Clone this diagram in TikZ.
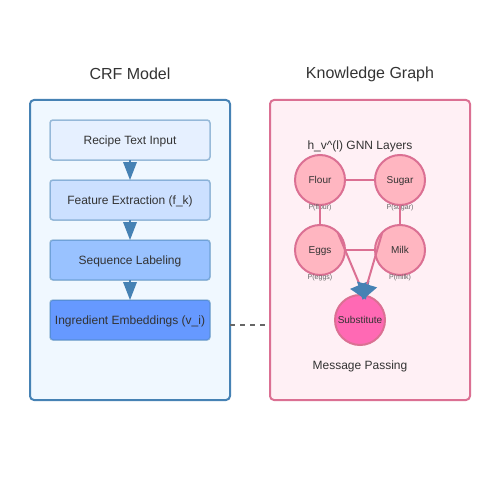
\documentclass[tikz,border=0pt]{standalone}
\usepackage{fontspec}
\setmainfont{Liberation Sans}
\usetikzlibrary{arrows.meta}
\usetikzlibrary{positioning}
\definecolor{crfline}{HTML}{4682B4}
\definecolor{crfbg}{HTML}{F0F8FF}
\definecolor{stepa}{HTML}{E6F0FF}
\definecolor{stepb}{HTML}{CCE0FF}
\definecolor{stepc}{HTML}{99C2FF}
\definecolor{stepd}{HTML}{6699FF}
\definecolor{kgline}{HTML}{DB7093}
\definecolor{kgbg}{HTML}{FFF0F5}
\definecolor{ingrfill}{HTML}{FFB6C1}
\definecolor{subfill}{HTML}{FF69B4}
\definecolor{txt}{HTML}{333333}

\begin{document}
\begin{tikzpicture}[x=1pt,y=-1pt,outer sep=0pt,text=txt,
    panel/.style={draw,line width=2pt,rounded corners=4pt,minimum width=200pt,minimum height=300pt},
    title/.style={font=\fontsize{16}{18}\selectfont},
    stepbox/.style={draw=crfline,draw opacity=.5,line width=1.5pt,rounded corners=3pt,minimum width=160pt,minimum height=40pt,inner sep=0pt,text depth=0pt,font=\fontsize{12}{14}\selectfont},
    ingr/.style={circle,draw=kgline,line width=2pt,fill=ingrfill,minimum size=50pt,inner sep=0pt,text depth=0pt,font=\fontsize{10}{12}\selectfont},
    prob/.style={inner sep=0pt,text=black!60,font=\fontsize{7}{8}\selectfont},
    flow/.style={color=crfline,line width=2pt,-{Triangle[length=18pt,width=14pt,line width=0pt]}},
    msg/.style={draw=kgline,line width=2pt},
    msgtip/.style={shorten >=-5pt,-{Triangle[length=16pt,width=21pt,line width=0pt,color=crfline]}}]
  \useasboundingbox (0,0) rectangle (500,500);

  % CRF side
  \node[panel,draw=crfline,fill=crfbg] (crf) at (130,250) {};
  \node[title] (crftitle) at (130,74) {CRF Model};
  \node[stepbox,fill=stepa] (s1) at (130,140) {Recipe Text Input};
  \node[stepbox,fill=stepb,below=20pt of s1] (s2) {Feature Extraction (f\_k)};
  \node[stepbox,fill=stepc,below=20pt of s2] (s3) {Sequence Labeling};
  \node[stepbox,fill=stepd,below=20pt of s3] (s4) {Ingredient Embeddings (v\_i)};
  \path[flow] (s1) edge (s2) (s2) edge (s3) (s3) edge (s4);

  % knowledge graph side
  \node[panel,draw=kgline,fill=kgbg] (kg) at (370,250) {};
  \node[title] (kgtitle) at (370,74) {Knowledge Graph};
  \node[font=\fontsize{12}{14}\selectfont] (layers) at (360,146) {h\_v\textasciicircum(l) GNN Layers};
  \node[ingr] (flour) at (320,180) {Flour};
  \node[ingr,right=30pt of flour] (sugar) {Sugar};
  \node[ingr,below=20pt of flour] (eggs) {Eggs};
  \node[ingr,right=30pt of eggs] (milk) {Milk};
  \node[ingr,fill=subfill] (sub) at (360,320) {Substitute};
  \node[prob,below=-1pt of flour] {P(flour)};
  \node[prob,below=-1pt of sugar] {P(sugar)};
  \node[prob,below=-1pt of eggs] {P(eggs)};
  \node[prob,below=-1pt of milk] {P(milk)};
  \node[font=\fontsize{12}{14}\selectfont] (passing) at (360,366) {Message Passing};

  \path[msg] (flour) edge (sugar) (flour) edge (eggs) (sugar) edge (milk) (eggs) edge (milk);
  \draw[msg,msgtip] (eggs.north east) -- ([xshift=4pt]sub.north);
  \draw[msg,msgtip] (milk.north west) -- ([xshift=4pt]sub.north);

  % link between the two parts
  \coordinate (linkA) at (230,325);
  \coordinate (linkB) at (265,325);
  \draw[black!60,line width=2pt,dash pattern=on 5pt off 5pt] (linkA) -- (linkB);
\end{tikzpicture}
\end{document}
